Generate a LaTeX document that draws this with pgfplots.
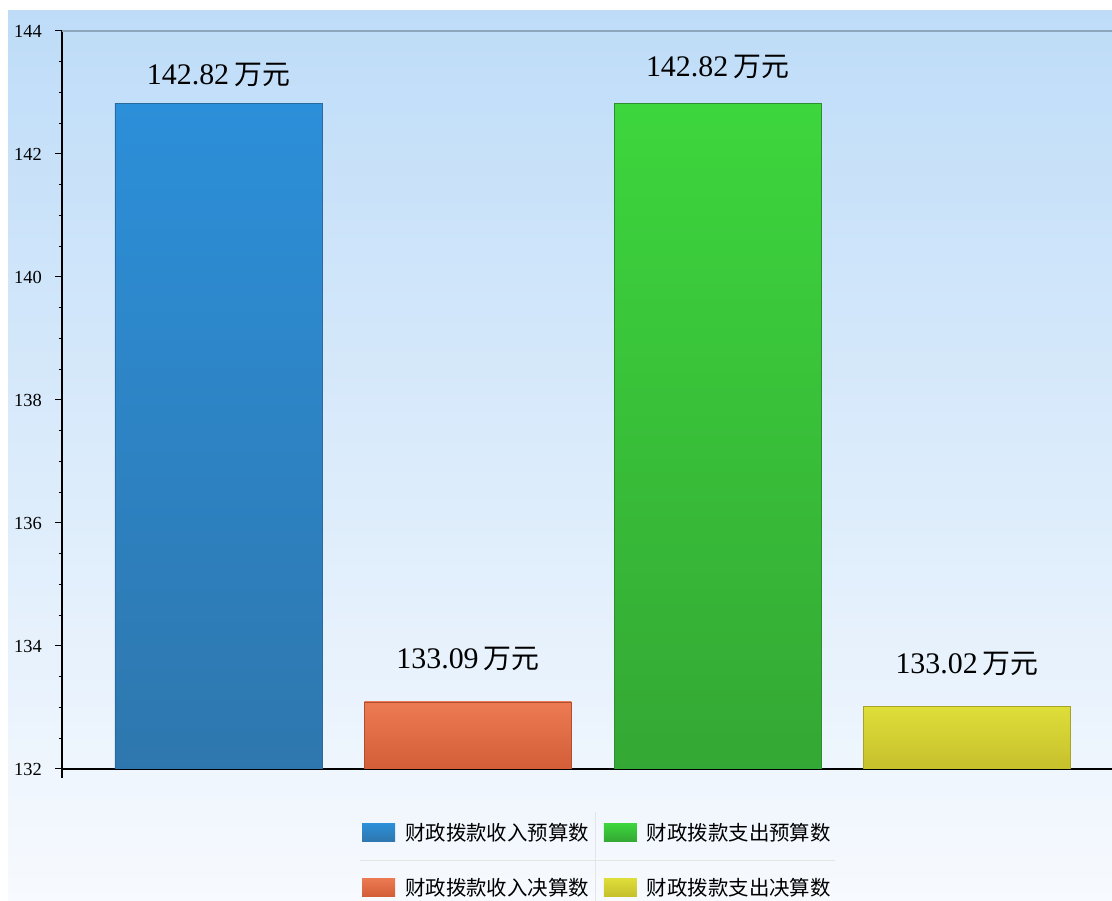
\documentclass[border=0pt]{standalone}
\usepackage{pgfplots}
\pgfplotsset{compat=1.18}
\usepackage{fontspec}
\setmainfont{Liberation Serif}
\newfontfamily\cjk{Noto Sans CJK SC}
\definecolor{bgtop}{HTML}{BEDCF8}
\definecolor{bgbot}{HTML}{F7FAFE}
\definecolor{topline}{HTML}{8CA6BE}
\definecolor{blueT}{HTML}{2C8FD9}
\definecolor{blueB}{HTML}{2E77AE}
\definecolor{blueD}{HTML}{2A6A9C}
\definecolor{orT}{HTML}{EC7A52}
\definecolor{orB}{HTML}{D35E38}
\definecolor{orD}{HTML}{B04E2E}
\definecolor{grT}{HTML}{3DD63D}
\definecolor{grB}{HTML}{34A834}
\definecolor{grD}{HTML}{2C8E2C}
\definecolor{yeT}{HTML}{DEDE3A}
\definecolor{yeB}{HTML}{C6C02C}
\definecolor{yeD}{HTML}{A8A226}
\begin{document}
\begin{tikzpicture}[x=1bp,y=1bp]
\path[use as bounding box] (0,0) rectangle (1112,901);
\fill[white] (0,0) rectangle (1112,901);
\shade[top color=bgtop, bottom color=bgbot] (8,0) rectangle (1112,890);
\begin{axis}[
  name=ax,
  scale only axis, width=1050bp, height=738bp,
  at={(62bp,132bp)}, anchor=south west,
  xmin=-0.627, xmax=3.581, ymin=132, ymax=144,
  ytick={132,134,...,144}, minor y tick num=3,
  xtick=\empty,
  axis x line*=bottom, axis y line*=left,
  axis line style={black, line width=1.3bp},
  tick align=outside,
  major tick length=7bp, minor tick length=3.5bp,
  every tick/.style={black, line width=1bp},
  yticklabel style={font=\fontsize{18.5}{18.5}\selectfont, inner sep=0pt, xshift=-13bp},
  /pgf/number format/assume math mode=true,
  ybar, bar width=207bp, bar shift=0pt,
  point meta=y,
  every node near coord/.append style={font=\fontsize{30}{30}\selectfont, black},
  nodes near coords={\pgfmathprintnumber[fixed,fixed zerofill,precision=2]{\pgfplotspointmeta}\hspace{5bp}{\cjk\fontsize{28}{28}\selectfont 万元}},
  legend columns=2, transpose legend,
  legend image code/.code={\path[#1, draw=none] (0bp,-9bp) rectangle (33bp,9bp);},
  legend style={at={(0.51,-0.123)}, anchor=center, draw=none, fill=none,
    font=\cjk\fontsize{20.5}{21}\selectfont,
    /tikz/every odd column/.append style={column sep=8bp},
    /tikz/every even column/.append style={column sep=13bp},
    row sep=32bp},
  legend cell align=left,
]
\addplot[top color=blueT, bottom color=blueB, draw=blueD, line width=0.8bp,
  every node near coord/.append style={yshift=13bp}] coordinates {(0,142.82)};
\addlegendentry{财政拨款收入预算数}
\addplot[top color=orT, bottom color=orB, draw=orD, line width=0.8bp,
  every node near coord/.append style={yshift=27bp}] coordinates {(1,133.09)};
\addlegendentry{财政拨款收入决算数}
\addplot[top color=grT, bottom color=grB, draw=grD, line width=0.8bp,
  every node near coord/.append style={yshift=21bp}] coordinates {(2,142.82)};
\addlegendentry{财政拨款支出预算数}
\addplot[top color=yeT, bottom color=yeB, draw=yeD, line width=0.8bp,
  every node near coord/.append style={yshift=27bp}] coordinates {(3,133.02)};
\addlegendentry{财政拨款支出决算数}
\end{axis}
\draw[topline, line width=2bp] (ax.north west) -- (ax.north east);
\draw[black, line width=1.3bp] (ax.south west) -- ++(0,-9);
\draw[black!10, line width=0.8bp] (360,41) -- (835,41);
\draw[black!10, line width=0.8bp] (595,0) -- (595,89);
\end{tikzpicture}
\end{document}
